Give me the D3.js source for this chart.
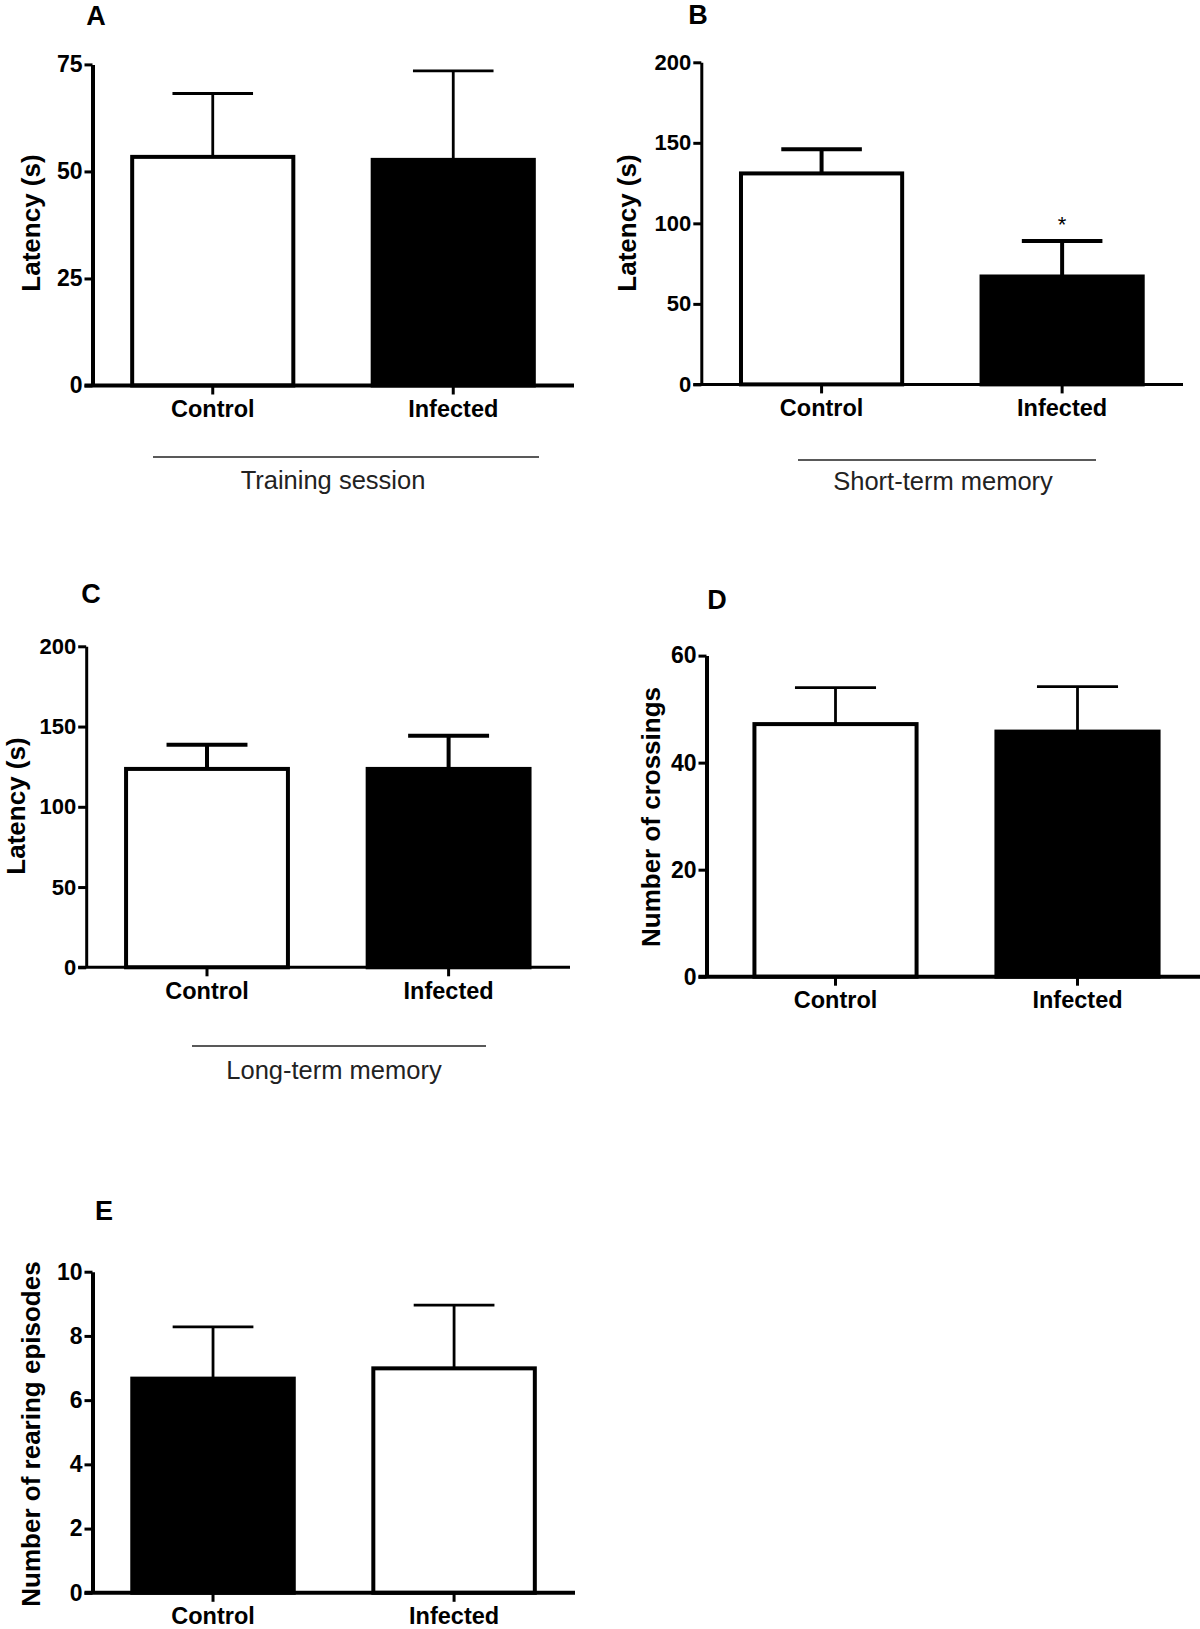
<!DOCTYPE html>
<html>
<head>
<meta charset="utf-8">
<script src="https://cdn.jsdelivr.net/npm/d3@7"></script>
<style>
  html, body { margin: 0; padding: 0; background: #fff; }
  svg { display: block; font-family: "Liberation Sans", Arial, sans-serif; }
</style>
</head>
<body>
<svg id="chart" width="1200" height="1629"></svg>
<script>
// ---------- data ----------
const categories = ["Control", "Infected"];

const trainingLatency = [53.4, 52.7];
const trainingSEM = [14.8, 20.8];

const shortTermLatency = [131, 67];
const shortTermSEM = [15, 22];

const longTermLatency = [123.6, 123.6];
const longTermSEM = [15, 20.7];

const crossingsCount = [47.2, 45.8];
const crossingsSEM = [6.8, 8.4];

const rearingCount = [6.67, 6.99];
const rearingSEM = [1.61, 1.97];

const ticksA = [0, 25, 50, 75];
const ticksB = [0, 50, 100, 150, 200];
const ticksC = [0, 50, 100, 150, 200];
const ticksD = [0, 20, 40, 60];
const ticksE = [0, 2, 4, 6, 8, 10];

const fillsNormal = ["#ffffff", "#000000"];
const fillsSwapped = ["#000000", "#ffffff"];

// ---------- drawing ----------
const svg = d3.select("#chart");
const FONT = "Liberation Sans, Arial, sans-serif";

function drawPanel(p) {
  const g = svg.append("g");
  const axisX = p.axisX !== undefined ? p.axisX : p.left;
  const y = d3.scaleLinear().domain([0, p.ymax]).range([p.bottom, p.top]);
  const x = d3.scaleBand().domain(categories).range([p.left, p.right])
    .paddingInner(0.33).paddingOuter(0.165);

  // bars
  g.selectAll("rect.bar").data(categories).join("rect")
    .attr("x", d => x(d))
    .attr("width", x.bandwidth())
    .attr("y", (d, i) => y(p.values[i]))
    .attr("height", (d, i) => y(0) - y(p.values[i]))
    .attr("fill", (d, i) => p.fills[i])
    .attr("stroke", "#000")
    .attr("stroke-width", 4);

  // error bars
  const capW = x.bandwidth() * 0.5;
  categories.forEach((c, i) => {
    const cx = x(c) + x.bandwidth() / 2;
    const top = y(p.values[i] + p.errors[i]);
    g.append("line").attr("x1", cx).attr("x2", cx)
      .attr("y1", y(p.values[i])).attr("y2", top)
      .attr("stroke", "#000").attr("stroke-width", p.errW);
    g.append("line").attr("x1", cx - capW / 2).attr("x2", cx + capW / 2)
      .attr("y1", top).attr("y2", top)
      .attr("stroke", "#000").attr("stroke-width", p.errW);
  });

  // y axis
  const ya = g.append("g").attr("transform", `translate(${axisX},0)`)
    .call(d3.axisLeft(y).tickValues(p.ticks).tickSize(8).tickSizeOuter(0).tickPadding(2));
  ya.select(".domain").attr("stroke-width", p.axisW).attr("stroke", "#000");
  ya.selectAll(".tick line").attr("stroke-width", 3).attr("stroke", "#000");
  ya.selectAll(".tick text").attr("font-size", p.tickFont).attr("font-weight", "bold")
    .attr("fill", "#000").attr("font-family", FONT);

  // x axis
  const xa = g.append("g").attr("transform", `translate(0,${p.bottom})`)
    .call(d3.axisBottom(x).tickSize(9).tickSizeOuter(0).tickPadding(6));
  xa.select(".domain").remove();
  xa.selectAll(".tick line").attr("stroke-width", 3).attr("stroke", "#000");
  xa.selectAll(".tick text").attr("font-size", 23.5).attr("font-weight", "bold")
    .attr("fill", "#000").attr("font-family", FONT);
  g.append("line").attr("x1", axisX - 8).attr("x2", p.axisEnd)
    .attr("y1", p.bottom).attr("y2", p.bottom)
    .attr("stroke", "#000").attr("stroke-width", p.axisW);

  // y label
  g.append("text")
    .attr("transform", `translate(${p.ylabX},${p.ylabY}) rotate(-90)`)
    .attr("text-anchor", "middle").attr("dominant-baseline", "central")
    .attr("font-size", 26).attr("font-weight", "bold").text(p.ylabel);

  // panel letter
  g.append("text").attr("x", p.letterX).attr("y", p.letterY)
    .attr("text-anchor", "middle").attr("dominant-baseline", "central")
    .attr("font-size", 27).attr("font-weight", "bold").text(p.letter);

  // group line + caption
  if (p.group) {
    g.append("line").attr("x1", p.group.x1).attr("x2", p.group.x2)
      .attr("y1", p.group.y).attr("y2", p.group.y)
      .attr("stroke", "#222").attr("stroke-width", 1.3);
    g.append("text").attr("x", p.group.tx).attr("y", p.group.ty)
      .attr("text-anchor", "middle").attr("dominant-baseline", "central")
      .attr("font-size", 25.5).attr("fill", "#222").text(p.group.text);
  }

  if (p.star) {
    const i = categories.indexOf(p.star.cat);
    const cx = x(p.star.cat) + x.bandwidth() / 2;
    g.append("text").attr("x", cx)
      .attr("y", y(p.values[i] + p.errors[i]) - 9)
      .attr("text-anchor", "middle")
      .attr("font-size", 22).text("*");
  }
}

drawPanel({
  letter: "A", letterX: 96, letterY: 16,
  values: trainingLatency, errors: trainingSEM, ticks: ticksA, ymax: 75, tickFont: 23,
  fills: fillsNormal, left: 92.5, right: 573.5, top: 64.4, bottom: 385.5, axisEnd: 574,
  axisW: 4, errW: 2.8,
  ylabel: "Latency (s)", ylabX: 31, ylabY: 223,
  group: { x1: 153, x2: 539, y: 457, tx: 333, ty: 480, text: "Training session" }
});

drawPanel({
  letter: "B", letterX: 698, letterY: 15,
  values: shortTermLatency, errors: shortTermSEM, ticks: ticksB, ymax: 200, tickFont: 22,
  fills: fillsNormal, left: 701.3, right: 1182.4, top: 62.3, bottom: 384.4, axisEnd: 1183,
  axisW: 3, errW: 4,
  ylabel: "Latency (s)", ylabX: 627, ylabY: 223,
  group: { x1: 798, x2: 1096, y: 460, tx: 943, ty: 481, text: "Short-term memory" },
  star: { cat: "Infected" }
});

drawPanel({
  letter: "C", letterX: 91, letterY: 594,
  values: longTermLatency, errors: longTermSEM, ticks: ticksC, ymax: 200, tickFont: 22,
  fills: fillsNormal, left: 86.2, right: 569.4, top: 646.3, bottom: 967.3, axisEnd: 570,
  axisW: 3, errW: 4,
  ylabel: "Latency (s)", ylabX: 16, ylabY: 806,
  group: { x1: 192, x2: 486, y: 1046, tx: 334, ty: 1070, text: "Long-term memory" }
});

drawPanel({
  letter: "D", letterX: 717, letterY: 600,
  values: crossingsCount, errors: crossingsSEM, ticks: ticksD, ymax: 60, tickFont: 23,
  fills: fillsNormal, axisX: 706.5, left: 714.5, right: 1198.5, top: 655.6, bottom: 976.7, axisEnd: 1200,
  axisW: 4, errW: 2.8,
  ylabel: "Number of crossings", ylabX: 651, ylabY: 817
});

drawPanel({
  letter: "E", letterX: 104, letterY: 1211,
  values: rearingCount, errors: rearingSEM, ticks: ticksE, ymax: 10, tickFont: 23,
  fills: fillsSwapped, left: 92.5, right: 574.6, top: 1271.7, bottom: 1592.8, axisEnd: 575,
  axisW: 4, errW: 2.8,
  ylabel: "Number of rearing episodes", ylabX: 31, ylabY: 1434
});
</script>
</body>
</html>
